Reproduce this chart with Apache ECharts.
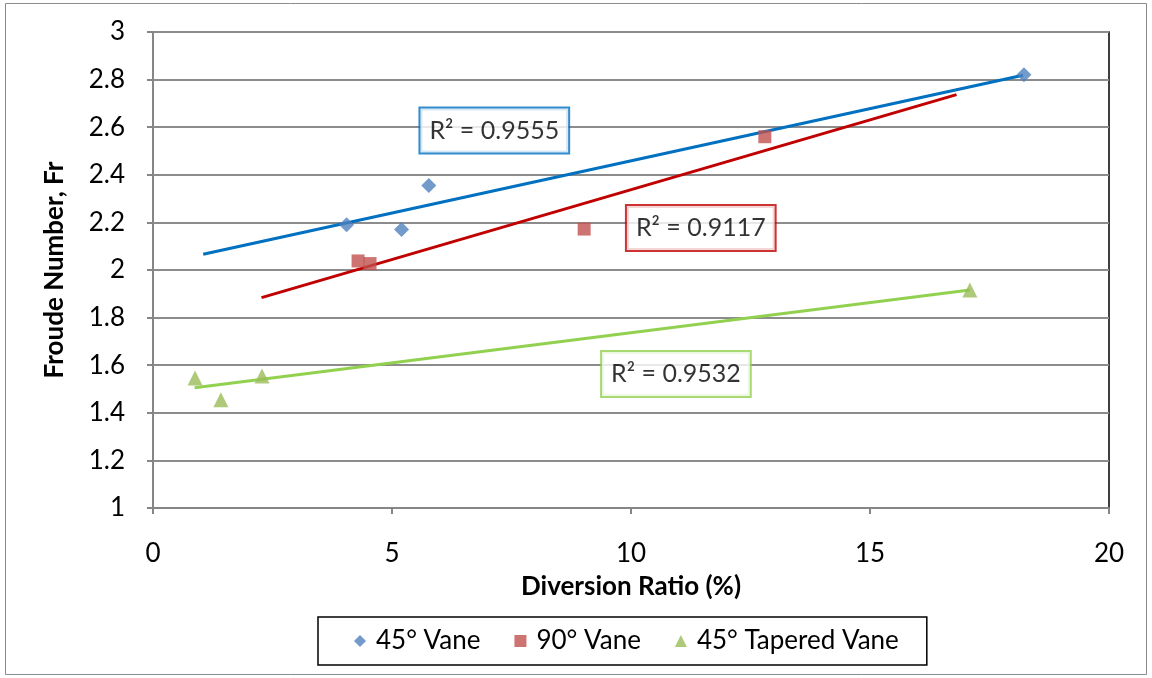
<!DOCTYPE html>
<html><head><meta charset="utf-8">
<script src="https://cdn.jsdelivr.net/npm/echarts@6/dist/echarts.min.js"></script>
<style>html,body{margin:0;padding:0;background:#fff}#c{width:1152px;height:678px}</style>
</head><body><div id="c"></div>
<script>
// Data
const vane45 = [[4.05, 2.19], [5.2, 2.17], [5.77, 2.355], [18.22, 2.82]];
const vane90 = [[4.29, 2.038], [4.54, 2.027], [9.02, 2.172], [12.8, 2.56]];
const tapered45 = [[0.88, 1.546], [1.42, 1.455], [2.28, 1.555], [17.09, 1.916]];
// Trendline endpoints (as drawn)
const trend45 = [[1.05, 2.066], [18.2, 2.818]];
const trend90 = [[2.27, 1.884], [16.81, 2.737]];
const trendTap = [[0.87, 1.505], [17.09, 1.916]];
// R² labels and their anchor positions
const r2Labels = ['R² = 0.9555', 'R² = 0.9117', 'R² = 0.9532'];
const r2Anchors = [[7.14, 2.586], [11.46, 2.176], [10.94, 1.563]];
const seriesNames = ['45° Vane', '90° Vane', '45° Tapered Vane'];
const xTicks = [0, 5, 10, 15, 20];
const yTicks = [1, 1.2, 1.4, 1.6, 1.8, 2, 2.2, 2.4, 2.6, 2.8, 3];

const FONT = 'Lato, "Open Sans", sans-serif';
const FS = 26;
const markerColors = ['#4F81BD', '#C0504D', '#9BBB59'];
const lineColors = ['#0070C0', '#C00000', '#92D050'];

const chart = echarts.init(document.getElementById('c'));
function labelSeries(i) {
  return {
    type: 'scatter', name: 'lbl' + i, symbolSize: 1, silent: true,
    itemStyle: { color: 'rgba(0,0,0,0)' },
    data: [{ value: r2Anchors[i] }],
    label: {
      show: true, position: 'inside', formatter: r2Labels[i],
      fontFamily: FONT, fontSize: 25, lineHeight: 26, color: '#000',
      backgroundColor: '#fff', borderColor: lineColors[i], borderWidth: 2,
      padding: [9, 9, 9, 9]
    },
    z: 10
  };
}
function trendSeries(data, i) {
  return {
    type: 'line', name: 't' + i, data: data, symbol: 'none', silent: true,
    lineStyle: { color: lineColors[i], width: 3 }, z: 3
  };
}
chart.setOption({
  animation: false,
  textStyle: { fontFamily: FONT },
  graphic: [{
    type: 'rect', shape: { x: 5.5, y: 3.5, width: 1141, height: 671 },
    style: { fill: 'none', stroke: '#8c8c8c', lineWidth: 1 }, silent: true, z: -1
  }],
  grid: { left: 153, right: 43, top: 32, bottom: 170, show: true, borderColor: '#000', borderWidth: 1.5, backgroundColor: '#fff' },
  xAxis: {
    type: 'value', min: xTicks[0], max: xTicks[xTicks.length - 1], interval: 5,
    name: 'Diversion Ratio (%)', nameLocation: 'middle', nameGap: 66,
    nameTextStyle: { fontFamily: FONT, fontWeight: 'bold', fontSize: FS, color: '#000' },
    axisLine: { show: true, lineStyle: { color: '#868686', width: 2 } },
    axisTick: { show: true, length: 6, lineStyle: { color: '#868686', width: 2 } },
    axisLabel: { fontFamily: FONT, fontSize: FS, color: '#000', margin: 33 },
    splitLine: { show: false }
  },
  yAxis: {
    type: 'value', min: yTicks[0], max: yTicks[yTicks.length - 1], interval: 0.2,
    name: 'Froude Number, Fr', nameLocation: 'middle', nameGap: 85, nameRotate: 90,
    nameTextStyle: { fontFamily: FONT, fontWeight: 'bold', fontSize: FS, color: '#000' },
    axisLine: { show: true, lineStyle: { color: '#868686', width: 2 } },
    axisTick: { show: true, length: 6, lineStyle: { color: '#868686', width: 2 } },
    axisLabel: { fontFamily: FONT, fontSize: FS, color: '#000', margin: 28,
      formatter: v => String(+v.toFixed(1)) },
    splitLine: { show: true, lineStyle: { color: '#8c8c8c', width: 2 } }
  },
  legend: {
    data: [
      { name: seriesNames[0], icon: 'diamond' },
      { name: seriesNames[1], icon: 'rect' },
      { name: seriesNames[2], icon: 'triangle' }
    ],
    left: 318, top: 617,
    borderColor: '#000', borderWidth: 1.5, padding: [11, 28, 11, 36],
    itemWidth: 12, itemHeight: 12, itemGap: 34,
    textStyle: { fontFamily: FONT, fontSize: FS, color: '#000', padding: [0, 0, 0, 5] }
  },
  series: [
    trendSeries(trend45, 0), trendSeries(trend90, 1), trendSeries(trendTap, 2),
    { type: 'scatter', name: seriesNames[0], data: vane45, symbol: 'diamond', symbolSize: 15, itemStyle: { color: markerColors[0] }, z: 4 },
    { type: 'scatter', name: seriesNames[1], data: vane90, symbol: 'rect', symbolSize: 13, itemStyle: { color: markerColors[1] }, z: 4 },
    { type: 'scatter', name: seriesNames[2], data: tapered45, symbol: 'triangle', symbolSize: 15, itemStyle: { color: markerColors[2] }, z: 4 },
    labelSeries(0), labelSeries(1), labelSeries(2)
  ]
});
</script></body></html>
